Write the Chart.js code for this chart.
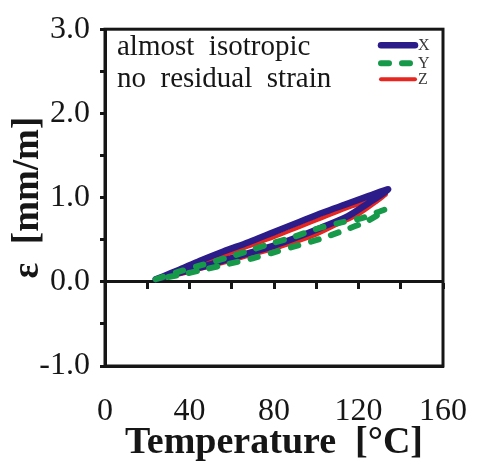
<!DOCTYPE html>
<html>
<head>
<meta charset="utf-8">
<script src="https://cdn.jsdelivr.net/npm/chart.js@4/dist/chart.umd.min.js"></script>
<style>
  html, body { margin: 0; padding: 0; background: #ffffff; }
  #wrap { width: 485px; height: 468px; }
</style>
</head>
<body>
<div id="wrap"><canvas id="c" width="485" height="468"></canvas></div>
<script>
// Thermal strain loops (heating branch, then cooling branch) for three directions
const seriesNames = ['X', 'Y', 'Z'];

const tempX   = [24, 34, 45, 56, 68, 80, 92, 103, 114, 125, 134, 130, 125, 115, 102, 90, 80, 68, 57, 45, 34, 24];
const strainX = [0.03, 0.13, 0.25, 0.36, 0.47, 0.59, 0.71, 0.82, 0.92, 1.02, 1.10, 1.02, 0.94, 0.78, 0.64, 0.52, 0.43, 0.34, 0.26, 0.17, 0.10, 0.03];

const tempY   = [24, 35, 46, 57, 67, 78, 89, 99, 111, 122, 133, 124, 112, 102, 91, 80, 70, 58, 46, 35, 24];
const strainY = [0.03, 0.12, 0.20, 0.28, 0.36, 0.45, 0.53, 0.62, 0.70, 0.76, 0.86, 0.72, 0.60, 0.51, 0.43, 0.35, 0.28, 0.21, 0.14, 0.08, 0.03];

const tempZ   = [24, 34, 45, 56, 68, 80, 92, 103, 114, 125, 133, 128, 120, 110, 100, 90, 80, 68, 57, 45, 34, 24];
const strainZ = [0.03, 0.11, 0.21, 0.31, 0.42, 0.53, 0.65, 0.76, 0.87, 0.96, 1.04, 0.94, 0.80, 0.68, 0.56, 0.47, 0.39, 0.31, 0.23, 0.15, 0.08, 0.03];

const xTickLabels = ['0', '40', '80', '120', '160'];
const yTickLabels = ['-1.0', '0.0', '1.0', '2.0', '3.0'];
const notes = ['almost  isotropic', 'no  residual  strain'];

const ink = '#161616';
const serif = '"Liberation Serif", "DejaVu Serif", serif';

function points(ts, es) {
  return ts.map((t, i) => ({ x: t, y: es[i] }));
}

// Outer frame, annotation text and a small line legend
const decorations = {
  id: 'decorations',
  afterDraw(chart) {
    const { ctx, chartArea: a } = chart;
    ctx.save();
    ctx.strokeStyle = ink;
    ctx.lineWidth = 3;
    ctx.strokeRect(a.left, a.top, a.right - a.left, a.bottom - a.top);

    ctx.fillStyle = ink;
    ctx.font = '29px ' + serif;
    ctx.textBaseline = 'alphabetic';
    ctx.textAlign = 'left';
    notes.forEach((s, i) => ctx.fillText(s, a.left + 12, a.top + 26 + i * 32));

    const rows = [a.top + 16, a.top + 34, a.top + 50];
    chart.data.datasets.forEach((ds, i) => {
      const y = rows[i];
      ctx.beginPath();
      ctx.strokeStyle = ds.borderColor;
      ctx.lineWidth = ds.borderWidth;
      ctx.lineCap = 'round';
      ctx.setLineDash(ds.borderDash || []);
      ctx.moveTo(a.right - 62, y);
      ctx.lineTo(a.right - 28, y);
      ctx.stroke();
      ctx.setLineDash([]);
      ctx.fillStyle = '#3a3a3a';
      ctx.font = '16px ' + serif;
      ctx.textBaseline = 'middle';
      ctx.fillText(ds.label, a.right - 25, y + 1);
    });
    ctx.restore();
  }
};

new Chart(document.getElementById('c'), {
  type: 'scatter',
  data: {
    datasets: [
      {
        label: seriesNames[0], data: points(tempX, strainX),
        showLine: true, pointRadius: 0, borderColor: '#2b1c8a', borderWidth: 6.5,
        tension: 0.3, borderCapStyle: 'round', borderJoinStyle: 'round', order: 1
      },
      {
        label: seriesNames[1], data: points(tempY, strainY),
        showLine: true, pointRadius: 0, borderColor: '#17994a', borderWidth: 6,
        borderDash: [8, 13], borderCapStyle: 'round', tension: 0.3, order: 0
      },
      {
        label: seriesNames[2], data: points(tempZ, strainZ),
        showLine: true, pointRadius: 0, borderColor: '#e6261f', borderWidth: 4,
        tension: 0.3, borderCapStyle: 'round', borderJoinStyle: 'round', order: 2
      }
    ]
  },
  options: {
    responsive: false,
    animation: false,
    layout: { padding: { left: 0, top: 17, right: 28, bottom: 0 } },
    plugins: { legend: { display: false }, tooltip: { enabled: false } },
    scales: {
      x: {
        type: 'linear', position: 'bottom', min: 0, max: 160,
        grid: { display: false },
        border: { display: true, color: ink, width: 3 },
        ticks: {
          stepSize: 40, autoSkip: false, maxRotation: 0, padding: 18,
          color: ink, font: { family: serif, size: 32 },
          callback: v => xTickLabels[v / 40]
        },
        title: {
          display: true, text: 'Temperature  [°C]', color: ink,
          font: { family: serif, size: 38, weight: 'bold' },
          padding: { top: 0, bottom: 2 }
        },
        afterFit: s => { s.height = 102; }
      },
      x0: {
        type: 'linear', position: { y: 0 }, min: 0, max: 160,
        border: { display: true, color: ink, width: 3 },
        grid: { drawOnChartArea: false, drawTicks: true, tickLength: 6, tickWidth: 3, color: ink },
        ticks: { display: false, stepSize: 20 }
      },
      y: {
        type: 'linear', position: 'left', min: -1, max: 3,
        border: { display: true, color: ink, width: 3 },
        grid: { drawOnChartArea: false, drawTicks: true, tickLength: 5, tickWidth: 3, color: ink },
        ticks: {
          stepSize: 0.5, autoSkip: false, padding: 10,
          color: ink, font: { family: serif, size: 32 },
          callback: v => Number.isInteger(v) ? yTickLabels[v + 1] : ''
        },
        title: {
          display: true, text: 'ε  [mm/m]', color: ink,
          font: { family: serif, size: 37, weight: 'bold' },
          padding: { top: 6, bottom: 0 }
        },
        afterFit: s => { s.width = 105; }
      }
    }
  },
  plugins: [decorations]
});
</script>
</body>
</html>
